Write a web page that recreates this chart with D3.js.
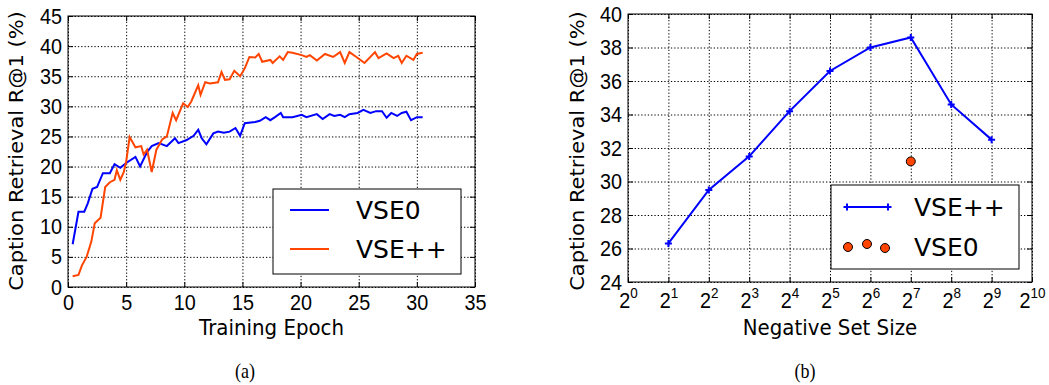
<!DOCTYPE html>
<html>
<head>
<meta charset="utf-8">
<script src="https://cdn.jsdelivr.net/npm/d3@7"></script>
<style>
  body { margin: 0; background: #fff; }
  svg { font-family: "DejaVu Sans", sans-serif; }
  .grid line { stroke: #000; stroke-width: 1; stroke-dasharray: 1.3, 2; }
  .grid path { display: none; }
  .ticks path { display: none; }
  .ticks line { stroke: #000; stroke-width: 1; }
  .ticks text { font-size: 22px; fill: #000; }
</style>
</head>
<body>
<div id="chart"></div>
<script>
// (a) training curves
const vse0Epoch = [0.4, 0.9, 1.4, 1.7, 2.1, 2.5, 3.0, 3.6, 4.0, 4.5, 5.0, 5.8, 6.2, 6.8, 7.2, 7.8, 8.5, 9.2, 9.5, 10.2,
  10.8, 11.2, 11.5, 11.9, 12.5, 12.9, 13.4, 13.9, 14.4, 14.8, 15.2, 16.1, 16.5, 17.0, 17.4, 17.8, 18.3, 18.5, 19.3, 20.1,
  20.5, 21.4, 21.9, 22.5, 22.9, 23.4, 23.8, 24.2, 24.9, 25.4, 26.0, 26.5, 27.0, 27.4, 27.8, 28.3, 28.7, 29.1, 29.5, 30.0, 30.5];
const vse0Recall = [7.1, 12.5, 12.5, 13.9, 16.3, 16.6, 18.9, 18.9, 20.4, 19.8, 20.6, 21.6, 20.0, 22.4, 23.4, 23.9, 23.4, 24.7, 23.9, 24.4,
  25.1, 26.1, 24.7, 23.7, 25.5, 25.8, 25.6, 25.8, 26.4, 25.1, 27.2, 27.4, 27.6, 28.2, 27.7, 28.2, 28.9, 28.2, 28.2, 28.6,
  28.2, 28.7, 27.9, 28.7, 28.4, 28.6, 28.2, 28.7, 28.9, 29.4, 28.9, 29.2, 29.2, 28.1, 28.9, 28.4, 28.9, 29.1, 27.7, 28.2, 28.2];
const vsePPEpoch = [0.4, 0.9, 1.2, 1.6, 2.0, 2.3, 2.8, 3.2, 3.6, 4.0, 4.2, 4.5, 4.8, 5.0, 5.3, 5.8, 6.3, 6.5, 6.8, 7.2,
  7.6, 8.1, 8.5, 9.0, 9.3, 9.9, 10.3, 10.6, 11.2, 11.4, 11.8, 12.2, 12.9, 13.2, 13.5, 13.9, 14.3, 14.8, 15.2, 15.6,
  16.1, 16.4, 16.7, 17.4, 17.6, 18.2, 18.5, 18.9, 19.3, 20.1, 20.5, 20.8, 21.4, 22.1, 22.8, 23.4, 23.8, 24.2, 24.8, 25.5,
  26.4, 26.7, 27.4, 28.0, 28.4, 28.7, 29.1, 29.7, 30.0, 30.5];
const vsePPRecall = [1.8, 2.0, 3.6, 5.0, 7.5, 10.6, 11.5, 16.6, 17.4, 17.8, 19.4, 17.8, 19.1, 20.8, 24.9, 23.2, 23.4, 22.0, 22.8, 19.1,
  22.8, 24.5, 25.0, 28.9, 27.7, 30.5, 29.9, 30.8, 33.5, 31.9, 34.0, 33.8, 34.0, 35.7, 34.4, 34.5, 35.9, 35.0, 36.3, 38.2,
  38.1, 38.7, 37.4, 37.7, 37.2, 38.3, 37.7, 39.0, 38.9, 38.5, 38.2, 38.5, 37.6, 38.7, 38.2, 39.0, 37.2, 39.0, 38.2, 37.2,
  39.0, 38.0, 38.8, 38.0, 38.4, 37.2, 38.4, 37.7, 38.7, 38.9];
const epochTicks = [0, 5, 10, 15, 20, 25, 30, 35];
const recallTicksA = [0, 5, 10, 15, 20, 25, 30, 35, 40, 45];

// (b) negative set size
const negSetSize = [2, 4, 8, 16, 32, 64, 128, 256, 512];
const vsePPNeg = [26.3, 29.5, 31.5, 34.2, 36.6, 38.0, 38.6, 34.6, 32.5];
const vse0NegSize = [128];
const vse0Neg = [31.2];
const sizeTicks = [1, 2, 4, 8, 16, 32, 64, 128, 256, 512, 1024];
const recallTicksB = [24, 26, 28, 30, 32, 34, 36, 38, 40];

const blue = '#0000ff';
const orange = '#ff4500';
const squeeze = 0.9; // the figure text is a bit narrower than DejaVu

const svg = d3.select('#chart').append('svg')
  .attr('width', 1049)
  .attr('height', 385);

function drawFrame(g, x, y, w, h, xTicks, yTicks, xFmt) {
  // dotted grid
  g.append('g').attr('class', 'grid')
    .attr('transform', `translate(0,${h})`)
    .call(d3.axisBottom(x).tickValues(xTicks).tickSize(-h).tickFormat(''));
  g.append('g').attr('class', 'grid')
    .call(d3.axisLeft(y).tickValues(yTicks).tickSize(-w).tickFormat(''));

  // inward ticks on all four sides
  const xb = g.append('g').attr('class', 'ticks')
    .attr('transform', `translate(0,${h})`)
    .call(d3.axisBottom(x).tickValues(xTicks).tickSizeInner(-5).tickSizeOuter(0).tickPadding(7).tickFormat(xFmt || d3.format('d')));
  xb.selectAll('.tick text').attr('transform', `scale(${squeeze},1)`);
  g.append('g').attr('class', 'ticks')
    .call(d3.axisTop(x).tickValues(xTicks).tickSizeInner(-5).tickSizeOuter(0).tickFormat(''));
  const yl = g.append('g').attr('class', 'ticks')
    .call(d3.axisLeft(y).tickValues(yTicks).tickSizeInner(-5).tickSizeOuter(0).tickFormat(d3.format('d')));
  yl.selectAll('.tick text').attr('x', 0).attr('transform', `translate(-6,0) scale(${squeeze},1)`);
  g.append('g').attr('class', 'ticks')
    .attr('transform', `translate(${w},0)`)
    .call(d3.axisRight(y).tickValues(yTicks).tickSizeInner(-5).tickSizeOuter(0).tickFormat(''));

  g.append('rect')
    .attr('width', w).attr('height', h)
    .attr('fill', 'none').attr('stroke', '#000').attr('stroke-width', 1);
  return xb;
}

function yLabel(cx, cy) {
  svg.append('text')
    .attr('transform', `translate(${cx},${cy}) rotate(-90) scale(1,${squeeze})`)
    .attr('text-anchor', 'middle')
    .attr('dy', '0.35em')
    .attr('font-size', 21)
    .text('Caption Retrieval R@1 (%)');
}

function hText(cx, cy, str, size, family) {
  return svg.append('text')
    .attr('transform', `translate(${cx},${cy}) scale(${squeeze},1)`)
    .attr('text-anchor', 'middle')
    .attr('font-size', size)
    .attr('font-family', family || null)
    .text(str);
}

// ---------- panel (a) ----------
{
  const left = 68, top = 16, w = 407, h = 271;
  const g = svg.append('g').attr('transform', `translate(${left},${top})`);
  const x = d3.scaleLinear().domain([0, 35]).range([0, w]);
  const y = d3.scaleLinear().domain([0, 45]).range([h, 0]);

  drawFrame(g, x, y, w, h, epochTicks, recallTicksA);

  const line = d3.line().x(d => x(d[0])).y(d => y(d[1]));
  g.append('path')
    .datum(d3.zip(vse0Epoch, vse0Recall))
    .attr('d', line).attr('fill', 'none')
    .attr('stroke', blue).attr('stroke-width', 2);
  g.append('path')
    .datum(d3.zip(vsePPEpoch, vsePPRecall))
    .attr('d', line).attr('fill', 'none')
    .attr('stroke', orange).attr('stroke-width', 2);

  // legend
  const lg = svg.append('g').attr('transform', 'translate(273,189)');
  lg.append('rect').attr('width', 188).attr('height', 85)
    .attr('fill', '#fff').attr('stroke', '#000').attr('stroke-width', 1);
  [['VSE0', blue, 21], ['VSE++', orange, 60]].forEach(([name, c, yy]) => {
    lg.append('line').attr('x1', 17).attr('x2', 56).attr('y1', yy).attr('y2', yy)
      .attr('stroke', c).attr('stroke-width', 2);
    lg.append('text').attr('x', 83).attr('y', yy).attr('dy', '0.36em')
      .attr('font-size', 25).text(name);
  });

  yLabel(16, 151);
  hText(left + w / 2, 335, 'Training Epoch', 22);
  hText(245, 378, '(a)', 20, '"Liberation Serif", serif');
}

// ---------- panel (b) ----------
{
  const left = 628, top = 14, w = 404, h = 268;
  const g = svg.append('g').attr('transform', `translate(${left},${top})`);
  const x = d3.scaleLog().base(2).domain([1, 1024]).range([0, w]);
  const y = d3.scaleLinear().domain([24, 40]).range([h, 0]);

  const xb = drawFrame(g, x, y, w, h, sizeTicks, recallTicksB, () => '');
  // 2^n tick labels
  xb.selectAll('.tick text').each(function(d) {
    const t = d3.select(this).attr('dy', null).attr('y', 26);
    t.append('tspan').text('2');
    t.append('tspan').attr('font-size', 15).attr('dy', -10).text(Math.round(Math.log2(d)));
  });

  g.append('path')
    .datum(d3.zip(negSetSize, vsePPNeg))
    .attr('d', d3.line().x(d => x(d[0])).y(d => y(d[1])))
    .attr('fill', 'none').attr('stroke', blue).attr('stroke-width', 2);
  g.selectAll('.plus').data(d3.zip(negSetSize, vsePPNeg)).join('path')
    .attr('class', 'plus')
    .attr('transform', d => `translate(${x(d[0])},${y(d[1])})`)
    .attr('d', 'M-3.5,0H3.5M0,-3.5V3.5')
    .attr('stroke', blue).attr('stroke-width', 2);
  g.selectAll('.dot').data(d3.zip(vse0NegSize, vse0Neg)).join('circle')
    .attr('class', 'dot')
    .attr('cx', d => x(d[0])).attr('cy', d => y(d[1])).attr('r', 4.5)
    .attr('fill', orange).attr('stroke', '#000').attr('stroke-width', 1);

  // legend
  const lg = svg.append('g').attr('transform', 'translate(831,185)');
  lg.append('rect').attr('width', 188).attr('height', 84)
    .attr('fill', '#fff').attr('stroke', '#000').attr('stroke-width', 1);
  lg.append('line').attr('x1', 16).attr('x2', 57).attr('y1', 22).attr('y2', 22)
    .attr('stroke', blue).attr('stroke-width', 2);
  [16, 57].forEach(px => lg.append('path')
    .attr('transform', `translate(${px},22)`)
    .attr('d', 'M-3.5,0H3.5M0,-3.5V3.5')
    .attr('stroke', blue).attr('stroke-width', 2));
  [[17, 62], [36, 59], [54, 63]].forEach(([px, py]) => lg.append('circle')
    .attr('cx', px).attr('cy', py).attr('r', 4.5)
    .attr('fill', orange).attr('stroke', '#000').attr('stroke-width', 1));
  lg.append('text').attr('x', 83).attr('y', 22).attr('dy', '0.36em').attr('font-size', 25).text('VSE++');
  lg.append('text').attr('x', 83).attr('y', 62).attr('dy', '0.36em').attr('font-size', 25).text('VSE0');

  yLabel(577, 151);
  hText(left + w / 2, 335, 'Negative Set Size', 22);
  hText(805, 378, '(b)', 20, '"Liberation Serif", serif');
}
</script>
</body>
</html>
